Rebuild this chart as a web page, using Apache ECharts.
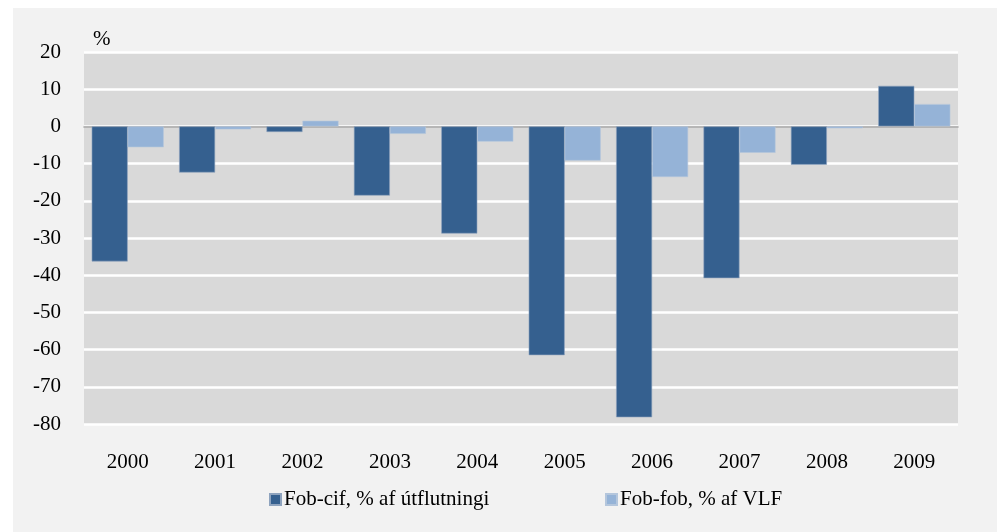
<!DOCTYPE html>
<html>
<head>
<meta charset="utf-8">
<script src="https://cdn.jsdelivr.net/npm/echarts@6/dist/echarts.min.js"></script>
<style>
  html, body { margin: 0; padding: 0; background: #fff; }
  #chart { width: 1002px; height: 532px; }
</style>
</head>
<body>
<div id="chart"></div>
<script>
var years = ["2000", "2001", "2002", "2003", "2004", "2005", "2006", "2007", "2008", "2009"];
var fobCif = [-36.3, -12.4, -1.5, -18.6, -28.8, -61.5, -78.2, -40.8, -10.3, 10.9];
var fobFob = [-5.6, -0.8, 1.5, -2.0, -4.1, -9.2, -13.6, -7.1, -0.5, 6.0];
var seriesNames = ["Fob-cif, % af útflutningi", "Fob-fob, % af VLF"];

var font = "'Liberation Serif', 'Times New Roman', serif";
var chart = echarts.init(document.getElementById('chart'));

var option = {
  backgroundColor: '#ffffff',
  animation: false,
  textStyle: { fontFamily: font, color: '#000' },
  graphic: [{
    type: 'rect',
    z: -10,
    shape: { x: 13, y: 8, width: 984, height: 530 },
    style: { fill: '#f2f2f2' }
  }, {
    type: 'text',
    left: 93,
    top: 29,
    style: { text: '%', font: '21px ' + font, fill: '#000' }
  }],
  grid: {
    left: 84,
    right: 44,
    top: 52,
    bottom: 108,
    show: true,
    backgroundColor: '#d9d9d9',
    borderWidth: 0
  },
  legend: [{
    data: [{ name: seriesNames[0], icon: 'rect' }],
    left: 264,
    top: 484,
    itemWidth: 11,
    itemHeight: 11,
    textStyle: { fontFamily: font, fontSize: 21, color: '#000', padding: [0, 0, 0, -2] }
  }, {
    data: [{ name: seriesNames[1], icon: 'rect' }],
    left: 600,
    top: 484,
    itemWidth: 11,
    itemHeight: 11,
    textStyle: { fontFamily: font, fontSize: 21, color: '#000', padding: [0, 0, 0, -2] }
  }],
  xAxis: {
    type: 'category',
    data: years,
    axisLine: { onZero: true, lineStyle: { color: '#a0a0a0', width: 1.5 } },
    axisTick: { show: false },
    axisLabel: {
      fontFamily: font,
      fontSize: 21,
      color: '#000',
      margin: 28,
      interval: 0
    }
  },
  yAxis: {
    type: 'value',
    min: -80,
    max: 20,
    interval: 10,
    axisLine: { show: false },
    axisTick: { show: false },
    axisLabel: { fontFamily: font, fontSize: 21, color: '#000', margin: 23 },
    splitLine: { lineStyle: { color: '#ffffff', width: 2.5 } }
  },
  series: [{
    name: seriesNames[0],
    type: 'bar',
    data: fobCif,
    barGap: '0%',
    barCategoryGap: '17.6%',
    itemStyle: { color: '#35608f', borderColor: '#8ea3be', borderWidth: 0.6 }
  }, {
    name: seriesNames[1],
    type: 'bar',
    data: fobFob,
    itemStyle: { color: '#95b3d7', borderColor: '#b4c6dc', borderWidth: 0.6 }
  }]
};

chart.setOption(option);
</script>
</body>
</html>
